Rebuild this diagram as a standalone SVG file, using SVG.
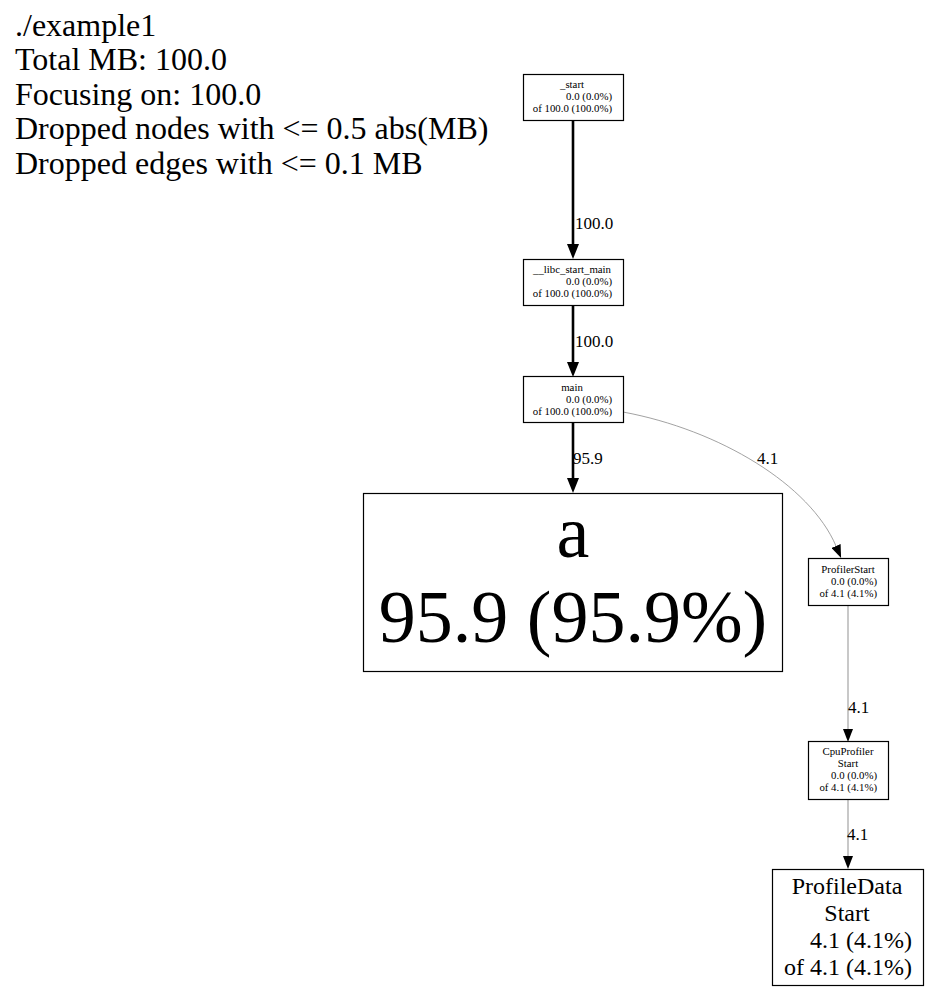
<svg xmlns="http://www.w3.org/2000/svg" width="928" height="992" viewBox="0 0 928 992" font-family="'Liberation Serif', 'Times New Roman', Times, serif">
<style>
text{font-family:'Liberation Serif','Times New Roman',Times,serif;fill:#000}
.hdr{font-size:32px}
.sm{font-size:10.8px}
.lbl{font-size:17px}
.big{font-size:74px}
.pd{font-size:24px}
.box{fill:#fff;stroke:#000;stroke-width:1.2}
.c{text-anchor:middle}
.r{text-anchor:end}
.heavy{stroke:#000;stroke-width:2.6;fill:none}
.light{stroke:#c8c8c8;stroke-width:2;fill:none}
.thin{stroke:#8a8a8a;stroke-width:0.8;fill:none}
</style>
<defs>
<marker id="ah" markerUnits="userSpaceOnUse" markerWidth="15" markerHeight="12" viewBox="0 0 15 12" refX="0" refY="6" orient="auto"><path d="M0,0 L15,6 L0,12 z" fill="#000"/></marker>
<marker id="al" markerUnits="userSpaceOnUse" markerWidth="13" markerHeight="10" viewBox="0 0 13 10" refX="0" refY="5" orient="auto"><path d="M0,0 L13,5 L0,10 z" fill="#000"/></marker>
</defs>
<rect width="928" height="992" fill="#fff"/>
<g id="legend">
<text class="hdr" x="15" y="35.5">./example1</text>
<text class="hdr" x="15" y="70">Total MB: 100.0</text>
<text class="hdr" x="15" y="104.5">Focusing on: 100.0</text>
<text class="hdr" x="15" y="139">Dropped nodes with &lt;= 0.5 abs(MB)</text>
<text class="hdr" x="15" y="173.5">Dropped edges with &lt;= 0.1 MB</text>
</g>
<g id="edges">
<path class="heavy" d="M573,120 L573,244" marker-end="url(#ah)"/>
<text class="lbl" x="575" y="229">100.0</text>
<path class="heavy" d="M573,305 L573,362" marker-end="url(#ah)"/>
<text class="lbl" x="575" y="347">100.0</text>
<path class="heavy" d="M573,422 L573,478" marker-end="url(#ah)"/>
<text class="lbl" x="573" y="464">95.9</text>
<path class="thin" d="M623,412 C720,430 810,485 836,546" marker-end="url(#al)"/>
<text class="lbl" x="757" y="464">4.1</text>
<path class="light" d="M848,605 L848,729" marker-end="url(#al)"/>
<text class="lbl" x="848" y="713">4.1</text>
<path class="light" d="M848,800 L848,856" marker-end="url(#al)"/>
<text class="lbl" x="847" y="840">4.1</text>
</g>
<g id="node-start">
<rect class="box" x="523.5" y="74.5" width="100" height="46"/>
<text class="sm c" x="572" y="88">_start</text>
<text class="sm r" x="612" y="100">0.0 (0.0%)</text>
<text class="sm r" x="612" y="112">of 100.0 (100.0%)</text>
</g>
<g id="node-libc">
<rect class="box" x="523.5" y="259.5" width="100" height="46"/>
<text class="sm c" x="572" y="273">__libc_start_main</text>
<text class="sm r" x="612" y="285">0.0 (0.0%)</text>
<text class="sm r" x="612" y="297">of 100.0 (100.0%)</text>
</g>
<g id="node-main">
<rect class="box" x="523.5" y="376.5" width="100" height="46"/>
<text class="sm c" x="572" y="391">main</text>
<text class="sm r" x="612" y="403">0.0 (0.0%)</text>
<text class="sm r" x="612" y="415">of 100.0 (100.0%)</text>
</g>
<g id="node-a">
<rect class="box" x="363.5" y="493.5" width="419" height="178"/>
<text class="big c" x="573" y="557">a</text>
<text class="big c" x="573" y="642">95.9 (95.9%)</text>
</g>
<g id="node-profilerstart">
<rect class="box" x="808.5" y="558.5" width="80" height="47"/>
<text class="sm c" x="848" y="573">ProfilerStart</text>
<text class="sm r" x="877" y="585">0.0 (0.0%)</text>
<text class="sm r" x="877" y="597">of 4.1 (4.1%)</text>
</g>
<g id="node-cpuprofilerstart">
<rect class="box" x="808.5" y="741.5" width="80" height="58"/>
<text class="sm c" x="848" y="755">CpuProfiler</text>
<text class="sm c" x="848" y="767">Start</text>
<text class="sm r" x="877" y="779">0.0 (0.0%)</text>
<text class="sm r" x="877" y="791">of 4.1 (4.1%)</text>
</g>
<g id="node-profiledatastart">
<rect class="box" x="772.5" y="869.5" width="151" height="116"/>
<text class="pd c" x="847" y="894">ProfileData</text>
<text class="pd c" x="847" y="921">Start</text>
<text class="pd r" x="912" y="948">4.1 (4.1%)</text>
<text class="pd r" x="912" y="975">of 4.1 (4.1%)</text>
</g>
</svg>
